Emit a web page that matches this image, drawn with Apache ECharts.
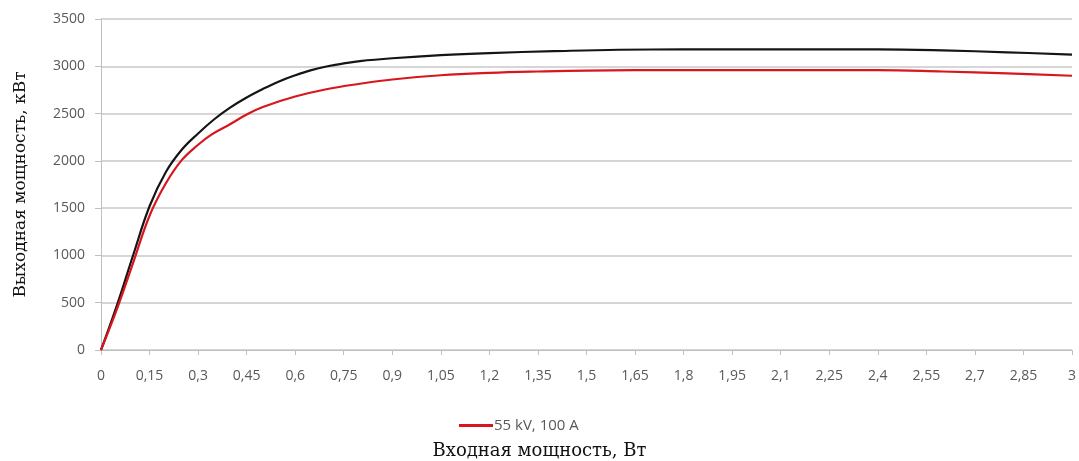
<!DOCTYPE html>
<html><head><meta charset="utf-8">
<script src="https://cdn.jsdelivr.net/npm/echarts@6/dist/echarts.min.js"></script>
<style>html,body{margin:0;padding:0;background:#fff}#c{width:1079px;height:461px}</style>
</head><body><div id="c"></div>
<script>
const xBlack = [0, 0.05, 0.1, 0.15, 0.2, 0.25, 0.3, 0.35, 0.4, 0.45, 0.5, 0.55, 0.6, 0.65, 0.7, 0.75, 0.8, 0.9, 1.05, 1.2, 1.4, 1.6, 1.8, 2.0, 2.2, 2.4, 2.6, 2.8, 3.0];
const yBlack = [0, 480, 1010, 1520, 1880, 2120, 2290, 2440, 2565, 2670, 2760, 2840, 2905, 2960, 3000, 3030, 3055, 3085, 3118, 3140, 3160, 3175, 3178, 3178, 3178, 3178, 3168, 3148, 3123];
const xRed = [0, 0.05, 0.1, 0.15, 0.2, 0.25, 0.3, 0.34, 0.4, 0.45, 0.5, 0.6, 0.7, 0.8, 0.9, 1.05, 1.2, 1.35, 1.5, 1.8, 2.1, 2.4, 2.6, 2.8, 3.0];
const yRed = [0, 440, 930, 1420, 1760, 2010, 2170, 2275, 2390, 2490, 2570, 2680, 2760, 2815, 2860, 2905, 2930, 2945, 2955, 2960, 2960, 2960, 2945, 2925, 2900];
const redName = '55 kV, 100 A';
const blackName = 'series2';
const xTitle = 'Входная мощность, Вт';
const yTitle = 'Выходная мощность, кВт';
const xTickStep = 0.15;
const yTickStep = 500;

const pair = (xs, ys) => xs.map((x, i) => [x, ys[i]]);
const chart = echarts.init(document.getElementById('c'));
chart.setOption({
  animation: false,
  title: {text: xTitle, left: 'center', top: 437,
    textStyle: {fontFamily: 'DejaVu Serif', fontSize: 18, fontWeight: 'normal', color: '#111'}},
  grid: {left: 101, right: 7, top: 19, bottom: 111},
  legend: {
    data: [redName], left: 454, top: 413, icon: 'rect', itemWidth: 34, itemHeight: 3, itemGap: 2,
    textStyle: {fontFamily: 'Open Sans', fontSize: 15, color: '#595959', padding: [0, 0, 0, -4]}
  },
  xAxis: {
    type: 'value', min: 0, max: 3, interval: xTickStep,
    axisLine: {lineStyle: {color: '#bfbfbf', width: 1}},
    axisTick: {show: true, length: 5, lineStyle: {color: '#bfbfbf'}},
    axisLabel: {margin: 19, fontFamily: 'Open Sans', fontSize: 14, color: '#595959',
      formatter: v => String(+v.toFixed(2)).replace('.', ',')},
    splitLine: {show: false}
  },
  yAxis: {
    type: 'value', min: 0, max: 3500, interval: yTickStep,
    name: yTitle, nameLocation: 'middle', nameGap: 72,
    nameTextStyle: {fontFamily: 'DejaVu Serif', fontSize: 17, color: '#111'},
    axisLine: {show: true, lineStyle: {color: '#bfbfbf', width: 1}},
    axisTick: {show: true, length: 6, lineStyle: {color: '#bfbfbf'}},
    axisLabel: {margin: 16, fontFamily: 'Open Sans', fontSize: 14, color: '#595959',
      formatter: v => String(v)},
    splitLine: {show: true, lineStyle: {color: '#c8c8c8', width: 1.5}}
  },
  series: [
    {name: blackName, type: 'line', data: pair(xBlack, yBlack), smooth: 0.4, showSymbol: false,
      lineStyle: {color: '#151515', width: 2.2}, itemStyle: {color: '#151515'}},
    {name: redName, type: 'line', data: pair(xRed, yRed), smooth: 0.4, showSymbol: false,
      lineStyle: {color: '#d7161e', width: 2.2}, itemStyle: {color: '#d7161e'}}
  ]
});
</script></body></html>
